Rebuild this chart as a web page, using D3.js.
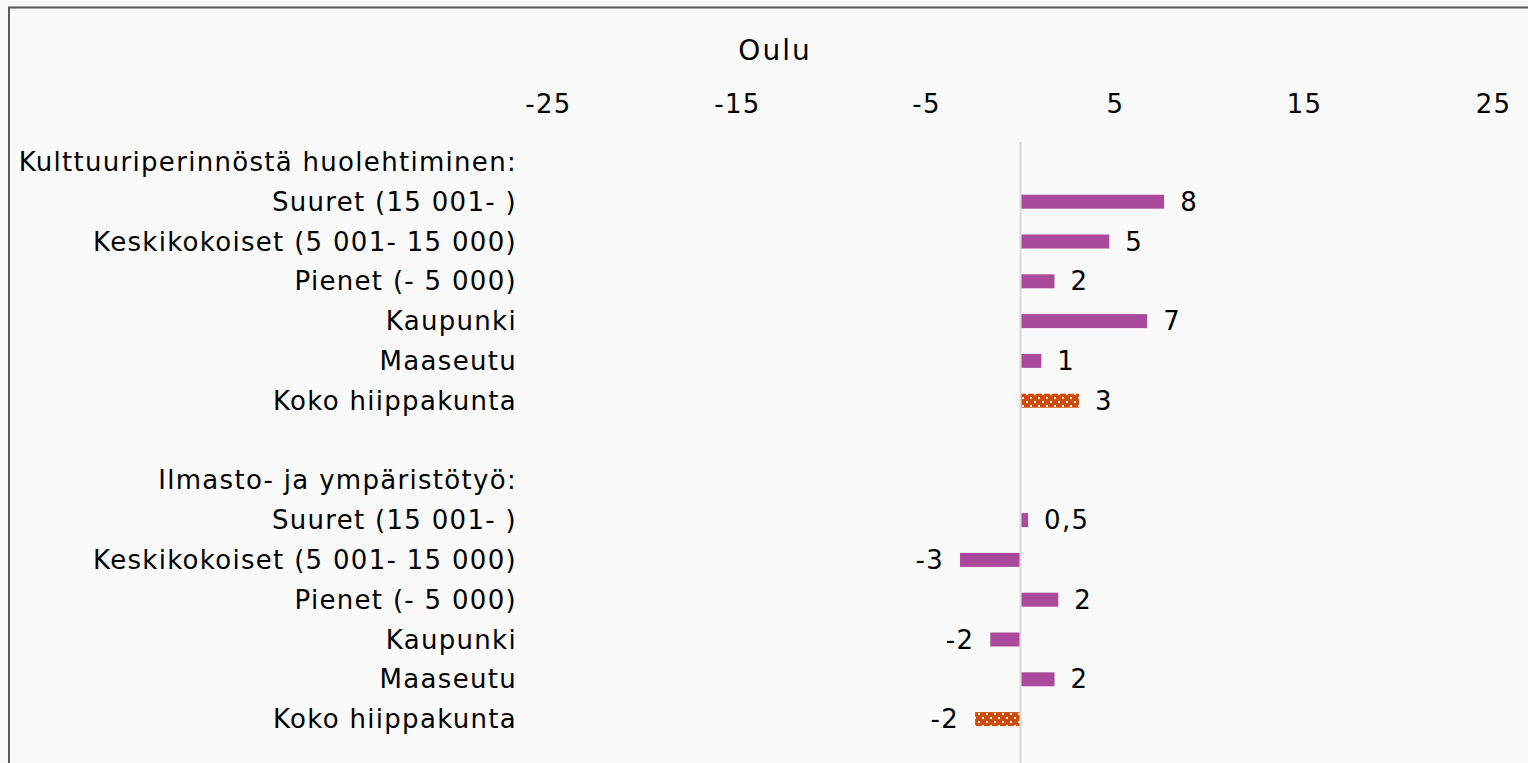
<!DOCTYPE html>
<html><head><meta charset="utf-8">
<script src="https://cdn.jsdelivr.net/npm/d3@7/dist/d3.min.js"></script>
<style>html,body{margin:0;padding:0;background:#fafafa;}svg{display:block;}</style>
</head><body>
<script>
const title = "Oulu";
const categories = [
  "Kulttuuriperinnöstä huolehtiminen:",
  "Suuret (15 001- )",
  "Keskikokoiset (5 001- 15 000)",
  "Pienet (- 5 000)",
  "Kaupunki",
  "Maaseutu",
  "Koko hiippakunta",
  "",
  "Ilmasto- ja ympäristötyö:",
  "Suuret (15 001- ) ",
  "Keskikokoiset (5 001- 15 000) ",
  "Pienet (- 5 000) ",
  "Kaupunki ",
  "Maaseutu ",
  "Koko hiippakunta "
];
const values = [null, 7.6, 4.7, 1.8, 6.7, 1.1, 3.1, null, null, 0.4, -3.2, 2.0, -1.6, 1.8, -2.4];
const valueLabels = ["", "8", "5", "2", "7", "1", "3", "", "", "0,5", "-3", "2", "-2", "2", "-2"];
const isTotal = [false, false, false, false, false, false, true, false, false, false, false, false, false, false, true];
const tickValues = [-25, -15, -5, 5, 15, 25];

const W = 1528, H = 763;
const svg = d3.select("body").append("svg").attr("width", W).attr("height", H);
const defs = svg.append("defs");
const pat = defs.append("pattern").attr("id", "dots").attr("patternUnits", "userSpaceOnUse")
  .attr("width", 8).attr("height", 8);
pat.append("rect").attr("width", 8).attr("height", 8).attr("fill", "#d04a02");
pat.append("rect").attr("x", 2).attr("y", 1).attr("width", 2).attr("height", 2).attr("fill", "#fff");
pat.append("rect").attr("x", 6).attr("y", 5).attr("width", 2).attr("height", 2).attr("fill", "#fff");

svg.append("rect").attr("x", 0).attr("y", 0).attr("width", W).attr("height", H).attr("fill", "#fafafa");
svg.append("rect").attr("x", 9).attr("y", 7.5).attr("width", W + 20).attr("height", H + 20)
  .attr("fill", "none").attr("stroke", "#595959").attr("stroke-width", 2);

const font = "'DejaVu Sans', Verdana, sans-serif";
const fs = 26, ls = "1.3px";
const x = d3.scaleLinear().domain([-25, 25]).range([548, 1493]);
const y = d3.scaleBand().domain(d3.range(categories.length)).range([142, 739]);

svg.append("text").attr("x", 775).attr("y", 50).attr("dy", "0.35em").attr("text-anchor", "middle")
  .attr("font-family", font).attr("font-size", 28).attr("letter-spacing", "2px").attr("fill", "#000").text(title);

const axis = d3.axisTop(x).tickValues(tickValues).tickSize(0).tickFormat(d => d);
const ag = svg.append("g").attr("transform", "translate(0,104)").call(axis);
ag.select(".domain").remove();
ag.selectAll("text").attr("font-family", font).attr("font-size", fs).attr("letter-spacing", ls)
  .attr("fill", "#000").attr("dy", "0.35em").attr("y", 0);

// category labels
svg.append("g").selectAll("text").data(categories).join("text")
  .attr("x", 517).attr("y", (d, i) => y(i) + y.bandwidth() / 2).attr("dy", "0.35em")
  .attr("text-anchor", "end").attr("font-family", font).attr("font-size", fs).attr("letter-spacing", ls)
  .attr("fill", "#000")
  .text(d => d.trim());

// zero line
svg.append("line").attr("x1", x(0)).attr("x2", x(0)).attr("y1", 142).attr("y2", H)
  .attr("stroke", "#d9d9d9").attr("stroke-width", 2);

const data = values.map((v, i) => ({v, i, label: valueLabels[i], total: isTotal[i]})).filter(d => d.v !== null);
const bh = 14;
svg.append("g").selectAll("rect").data(data).join("rect")
  .attr("x", d => x(Math.min(0, d.v)) + (d.v > 0 ? 1 : 0))
  .attr("width", d => Math.abs(x(d.v) - x(0)) - 1)
  .attr("y", d => y(d.i) + y.bandwidth() / 2 - bh / 2)
  .attr("height", bh)
  .attr("fill", d => d.total ? "url(#dots)" : "#aa4a9c");

svg.append("g").selectAll("text").data(data).join("text")
  .attr("x", d => d.v >= 0 ? x(d.v) + 16 : x(d.v) - 16)
  .attr("y", d => y(d.i) + y.bandwidth() / 2).attr("dy", "0.35em")
  .attr("text-anchor", d => d.v >= 0 ? "start" : "end")
  .attr("font-family", font).attr("font-size", fs).attr("letter-spacing", ls).attr("fill", "#000")
  .text(d => d.label);
</script>
</body></html>
